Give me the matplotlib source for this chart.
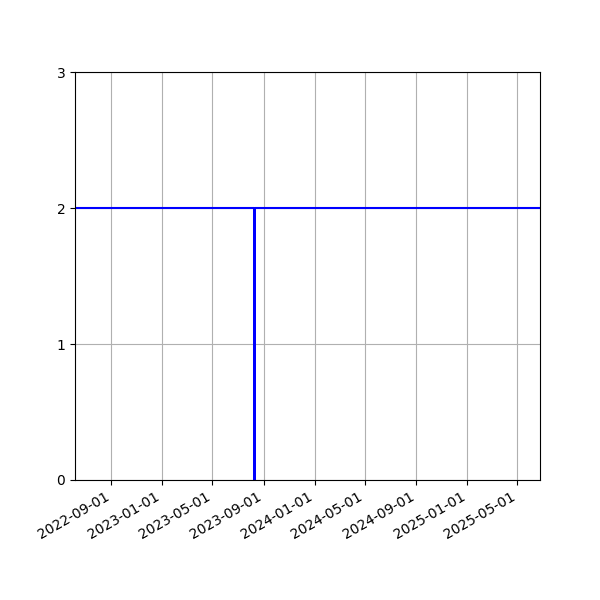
import matplotlib
matplotlib.use("Agg")
import matplotlib.pyplot as plt
import matplotlib.dates as mdates
import numpy as np

dates = np.array(['2022-06-01', '2023-08-09', '2023-08-10', '2023-08-11', '2025-07-01'], dtype='datetime64[D]')
values = [2, 2, 0, 2, 2]
x_limits = np.array(['2022-06-06', '2025-06-24'], dtype='datetime64[D]')

fig, ax = plt.subplots(figsize=(6, 6), dpi=100)
ax.plot(dates, values, color='blue')
ax.set_xlim(x_limits[0], x_limits[1])
ax.set_ylim(0, 3)
ax.set_yticks([0, 1, 2, 3])
ax.xaxis.set_major_locator(mdates.MonthLocator(bymonth=[1, 5, 9]))
ax.xaxis.set_major_formatter(mdates.DateFormatter('%Y-%m-%d'))
ax.grid(True)
fig.autofmt_xdate()
fig.savefig('out.png')
